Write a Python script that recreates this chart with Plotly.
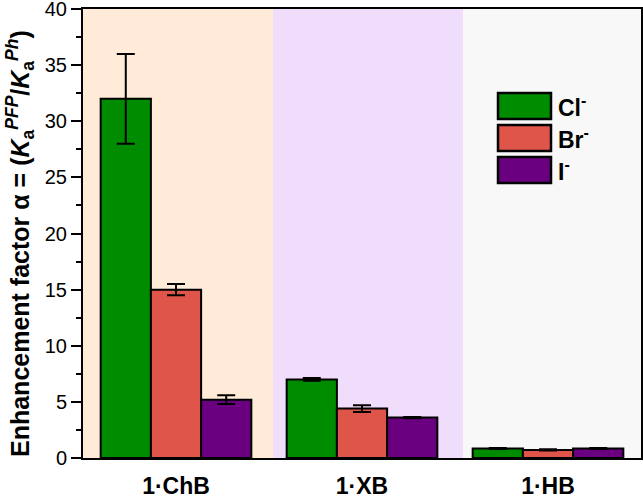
import plotly.graph_objects as go

categories = ["1·ChB", "1·XB", "1·HB"]
series_names = ["Cl<sup>-</sup>", "Br<sup>-</sup>", "I<sup>-</sup>"]
cl_values = [32.0, 7.0, 0.85]
cl_errors = [4.0, 0.12, 0.05]
br_values = [15.0, 4.4, 0.72]
br_errors = [0.5, 0.3, 0.05]
i_values = [5.2, 3.6, 0.85]
i_errors = [0.4, 0.05, 0.05]
colors = ["#008C00", "#E0554A", "#6A0080"]
band_colors = ["#FFEBD7", "#F0DDFB", "#F8F8F8"]
y_ticks = [0, 5, 10, 15, 20, 25, 30, 35, 40]

W, H = 643, 501
PL, PT, PR, PB = 83, 9, 641, 458   # plot area in window pixels
L, T = PL, PT
R = W - PR
B = H - PB
PW, PH = PR - PL, PB - PT

def px_x(p):
    return (p - PL) / PW

def px_y(p):
    return (PB - p) / PH

fig = go.Figure()
values = [cl_values, br_values, i_values]
errors = [cl_errors, br_errors, i_errors]
for name, v, e, c in zip(series_names, values, errors, colors):
    fig.add_trace(go.Bar(
        x=[f"<b>{c_}</b>" for c_ in categories], y=v, name=name,
        marker=dict(color=c, line=dict(color="black", width=2)),
        error_y=dict(type="data", array=e, visible=True, color="black", thickness=2, width=9),
        showlegend=False, hoverinfo="skip",
    ))

shapes = []
bounds = [0, px_x(273), px_x(463), 1]
for i, bc in enumerate(band_colors):
    shapes.append(dict(type="rect", xref="paper", yref="paper", x0=bounds[i], x1=bounds[i+1],
                       y0=0, y1=1, fillcolor=bc, line=dict(width=0), layer="below"))

annotations = []
legend_tops = [93, 125, 157]
for i, (name, c) in enumerate(zip(series_names, colors)):
    t = legend_tops[i]
    shapes.append(dict(type="rect", xref="paper", yref="paper", x0=px_x(498), x1=px_x(551),
                       y0=px_y(t + 26), y1=px_y(t), fillcolor=c,
                       line=dict(color="black", width=2.5), layer="above"))
    annotations.append(dict(xref="paper", yref="paper", x=px_x(556), y=px_y(t + 13),
                            text=f"<b>{name}</b>", showarrow=False, xanchor="left", yanchor="middle",
                            font=dict(size=23, color="black", family="Liberation Sans")))

annotations.append(dict(xref="paper", yref="paper", x=px_x(20), y=px_y(244), textangle=-90,
                        text="<b>Enhancement factor α = (<i>K</i><sub>a</sub><sup><i>PFP</i></sup>/<i>K</i><sub>a</sub><sup><i>Ph</i></sup>)</b>",
                        showarrow=False, xanchor="center", yanchor="middle",
                        font=dict(size=25, color="black", family="Liberation Sans")))

fig.update_layout(
    width=W, height=H,
    margin=dict(l=L, r=R, t=T, b=B, autoexpand=False),
    plot_bgcolor="white", paper_bgcolor="white",
    barmode="group", bargap=0.19, bargroupgap=0,
    shapes=shapes, annotations=annotations,
    font=dict(family="Liberation Sans", color="black"),
    showlegend=False,
)
fig.update_xaxes(showline=True, linecolor="black", linewidth=2, mirror=True, ticks="",
                 tickfont=dict(size=23, color="black"), showgrid=False, automargin=False,
                 ticklabelstandoff=6, ticklabeloverflow="allow")
fig.update_yaxes(range=[0, 40], tickvals=y_ticks, ticks="outside", ticklen=10, tickwidth=2,
                 tickcolor="black", showline=True, linecolor="black", linewidth=2, mirror=True,
                 minor=dict(dtick=2.5, ticks="outside", ticklen=5, tickwidth=2, tickcolor="black", showgrid=False),
                 tickfont=dict(size=20, color="black"), showgrid=False, zeroline=False, automargin=False,
                 ticklabeloverflow="allow")

fig.write_html("out.html", config={"displayModeBar": False},
               post_script="document.body.style.margin='0';document.body.style.overflow='hidden';")
